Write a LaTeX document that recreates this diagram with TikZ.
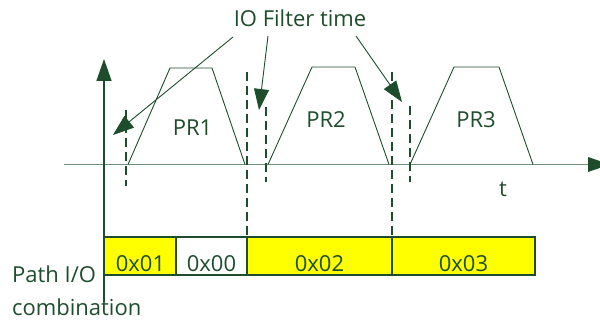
\documentclass[tikz,border=0pt]{standalone}
\usepackage{fontspec}
\setmainfont{Open Sans}
\usetikzlibrary{arrows.meta}
\definecolor{dg}{HTML}{1E4D2B}
\definecolor{axg}{HTML}{6E907A}
\definecolor{yel}{HTML}{FFFF00}
\begin{document}
\begin{tikzpicture}[x=1pt,y=-1pt,
  every node/.style={font=\fontsize{22}{26}\selectfont, text=dg, inner sep=0pt},
  trap/.style={draw=dg, line width=0.9pt},
  dashv/.style={draw=dg, line width=2.6pt, dash pattern=on 9pt off 5pt},
  ptr/.style={draw=dg, line width=0.9pt, -{Triangle[length=21pt,width=15pt]}},
  iobox/.style={draw=dg, line width=1.2pt, minimum height=38pt, inner sep=0pt}]
\useasboundingbox (0,0) rectangle (600,320);

% boxes
\node[iobox, fill=yel, minimum width=72pt] (b1) at (140,256) {};
\node[iobox, fill=white, minimum width=71pt] (b2) at (211.5,256) {};
\node[iobox, fill=yel, minimum width=145pt] (b3) at (319.5,256) {};
\node[iobox, fill=yel, minimum width=143pt] (b4) at (463.5,256) {};
\node[anchor=base] (t1) at (140.5,272) {0x01};
\node[anchor=base] (t2) at (211.5,272) {0x00};
\node[anchor=base] (t3) at (319.5,272) {0x02};
\node[anchor=base] (t4) at (463.5,272) {0x03};

% axes
\coordinate (hx0) at (64,164.5);
\coordinate (hx1) at (588,164.5);
\draw[draw=axg, line width=1.8pt] (hx0) -- (hx1);
\fill[dg] (588,157) -- (610,164.5) -- (588,172) -- cycle;
\coordinate (vy0) at (104,302);
\coordinate (vy1) at (104,59);
\draw[draw=dg, line width=1.5pt, -{Triangle[length=22pt,width=15pt]}] (vy0) -- (vy1);

% trapezoids
\draw[trap] (128,164.5) -- (170,68) -- (212,68) -- (245,164.5);
\draw[trap] (268,164.5) -- (312,67) -- (355,67) -- (389,164.5);
\draw[trap] (410,164.5) -- (454,67) -- (499,67) -- (533,164.5);

% dashed lines
\coordinate (d1a) at (126,110); \coordinate (d1b) at (126,186);
\coordinate (d2a) at (247,72);  \coordinate (d2b) at (247,275);
\coordinate (d3a) at (266,107); \coordinate (d3b) at (266,182);
\coordinate (d4a) at (392,72);  \coordinate (d4b) at (392,275);
\coordinate (d5a) at (410,106); \coordinate (d5b) at (410,182);
\draw[dashv] (d1a) -- (d1b);
\draw[dashv] (d2a) -- (d2b);
\draw[dashv] (d3a) -- (d3b);
\draw[dashv] (d4a) -- (d4b);
\draw[dashv] (d5a) -- (d5b);

% labels
\node[anchor=base] (pr1) at (192.5,136) {PR1};
\node[anchor=base] (pr2) at (326,128) {PR2};
\node[anchor=base] (pr3) at (476,128) {PR3};
\node[anchor=base] (tl) at (503,197) {t};
\node[anchor=base west] (path) at (12,283) {Path I/O};
\node[anchor=base west] (comb) at (12,316) {combination};
\node[anchor=base] (io) at (300,27) {IO Filter time};

% pointers
\coordinate (s1) at (233,37); \coordinate (e1) at (113,135);
\coordinate (s2) at (268,36); \coordinate (e2) at (259,110);
\coordinate (s3) at (356,36); \coordinate (e3) at (402,102);
\draw[ptr] (s1) -- (e1);
\draw[ptr] (s2) -- (e2);
\draw[ptr] (s3) -- (e3);
\end{tikzpicture}
\end{document}
